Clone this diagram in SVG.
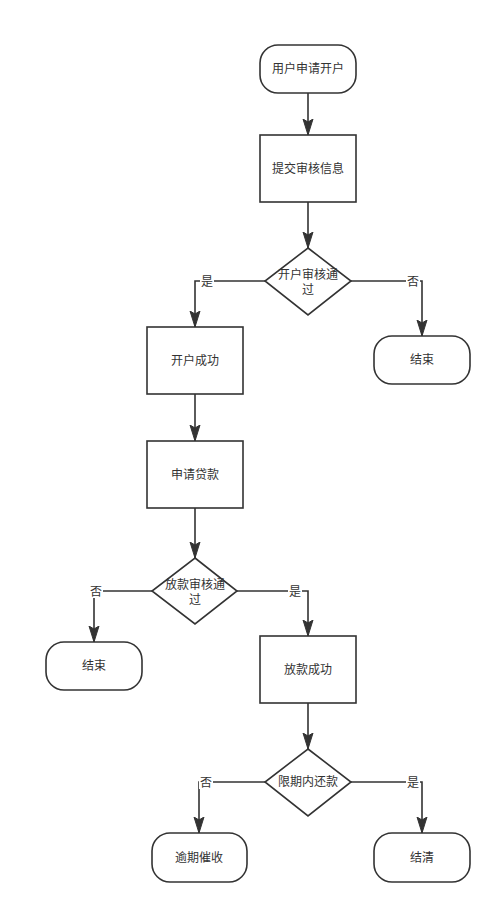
<svg xmlns="http://www.w3.org/2000/svg" width="500" height="912" viewBox="0 0 500 912">
<style>
.s{fill:#fff;stroke:#333;stroke-width:1.6}
.t{font-family:"Liberation Sans","Noto Sans CJK SC",sans-serif;font-size:12px;fill:#333;text-anchor:middle}
.c{fill:none;stroke:#333;stroke-width:1.6}
.lb{fill:#fff}
</style>
<defs>
<marker id="d" markerUnits="userSpaceOnUse" markerWidth="17" markerHeight="12" viewBox="0 -6 17 12" refX="16" refY="0" orient="auto">
<path d="M0,-5 L16,0 L0,5 L3,0 Z" fill="#333" stroke="#333" stroke-width="1"/>
</marker>
</defs>
<rect width="500" height="912" fill="#fff"/>
<g id="connectors">
<path class="c" d="M308,93 V135" marker-end="url(#d)"/>
<path class="c" d="M308,202 V248" marker-end="url(#d)"/>
<path class="c" d="M265,281 H195 V327" marker-end="url(#d)"/>
<path class="c" d="M351,281 H422 V336" marker-end="url(#d)"/>
<path class="c" d="M195,394 V441" marker-end="url(#d)"/>
<path class="c" d="M195,508 V558" marker-end="url(#d)"/>
<path class="c" d="M152,591 H94 V642" marker-end="url(#d)"/>
<path class="c" d="M237,591 H308 V636" marker-end="url(#d)"/>
<path class="c" d="M308,703 V749" marker-end="url(#d)"/>
<path class="c" d="M265,782 H199 V833" marker-end="url(#d)"/>
<path class="c" d="M351,782 H422 V833" marker-end="url(#d)"/>
<rect class="lb" x="200" y="274" width="14" height="14"/>
<text class="t" x="207" y="286">是</text>
<rect class="lb" x="406" y="274" width="14" height="14"/>
<text class="t" x="413" y="286">否</text>
<rect class="lb" x="89" y="584" width="14" height="14"/>
<text class="t" x="96" y="596">否</text>
<rect class="lb" x="288" y="584" width="14" height="14"/>
<text class="t" x="295" y="596">是</text>
<rect class="lb" x="199" y="775" width="14" height="14"/>
<text class="t" x="206" y="787">否</text>
<rect class="lb" x="406" y="775" width="14" height="14"/>
<text class="t" x="413" y="787">是</text>
</g>
<g id="n1"><rect class="s" x="260" y="45" width="96" height="48" rx="18"/><text class="t" x="308" y="73">用户申请开户</text></g>
<g id="n2"><rect class="s" x="260" y="135" width="96" height="67"/><text class="t" x="308" y="173">提交审核信息</text></g>
<g id="n3"><path class="s" d="M308,248 L351,281 L308,315 L265,281 Z"/><text class="t" x="308" y="279">开户审核通</text><text class="t" x="308" y="294">过</text></g>
<g id="n4"><rect class="s" x="374" y="336" width="96" height="48" rx="18"/><text class="t" x="422" y="364">结束</text></g>
<g id="n5"><rect class="s" x="147" y="327" width="96" height="67"/><text class="t" x="195" y="365">开户成功</text></g>
<g id="n6"><rect class="s" x="147" y="441" width="96" height="67"/><text class="t" x="195" y="479">申请贷款</text></g>
<g id="n7"><path class="s" d="M195,558 L237,591 L195,624 L152,591 Z"/><text class="t" x="195" y="589">放款审核通</text><text class="t" x="195" y="604">过</text></g>
<g id="n8"><rect class="s" x="46" y="642" width="96" height="48" rx="18"/><text class="t" x="94" y="670">结束</text></g>
<g id="n9"><rect class="s" x="260" y="636" width="96" height="67"/><text class="t" x="308" y="674">放款成功</text></g>
<g id="n10"><path class="s" d="M308,749 L351,782 L308,816 L265,782 Z"/><text class="t" x="308" y="786">限期内还款</text></g>
<g id="n11"><rect class="s" x="152" y="833" width="95" height="49" rx="18"/><text class="t" x="199" y="862">逾期催收</text></g>
<g id="n12"><rect class="s" x="374" y="833" width="96" height="49" rx="18"/><text class="t" x="422" y="862">结清</text></g>
</svg>
